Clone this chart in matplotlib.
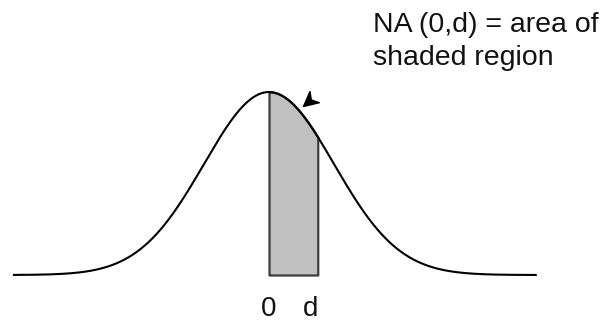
import numpy as np
import matplotlib
matplotlib.use('Agg')
import matplotlib.pyplot as plt
from matplotlib.path import Path
from matplotlib.markers import MarkerStyle
from matplotlib.transforms import Affine2D

# standard normal curve, x in units of sigma
curve_range = [-3.94, 4.12]
d_value = 0.75
tick_positions = [0, d_value]
tick_labels = ['0', 'd']
note_text = 'NA (0,d) = area of\nshaded region'
arrow_x = 0.53
arrow_gap = 0.055

plt.rcParams['font.family'] = ['Liberation Sans', 'DejaVu Sans']

def density(z):
	return np.exp(-z**2 / 2.0)

fig = plt.figure(figsize=(6.06, 3.21), dpi=100)
ax = fig.add_axes([0, 0, 1, 1])
ax.set_xlim(-269 / 65.0, (606 - 269) / 65.0)
ax.set_ylim(-46 / 183.0, (321 - 46) / 183.0)
ax.axis('off')

z = np.linspace(curve_range[0], curve_range[1], 800)
zs = np.linspace(0, d_value, 200)

ax.fill_between(zs, 0, density(zs), facecolor='#c0c0c0', edgecolor='#3c3c3c', linewidth=1.6, zorder=1)
ax.plot(z, density(z), color='black', linewidth=1.5, solid_capstyle='butt', zorder=2)

# little arrowhead pointing at the curve
head = Path([(0, 0), (1, 0.5), (0.7, 0), (1, -0.5), (0, 0)],
	[Path.MOVETO, Path.LINETO, Path.LINETO, Path.LINETO, Path.CLOSEPOLY])
marker = MarkerStyle(head, transform=Affine2D().rotate_deg(40))
ax.plot([arrow_x], [density(arrow_x) + arrow_gap], marker=marker, markersize=21,
	color='black', linestyle='none', zorder=3)

ax.text(tick_positions[0], -0.225, tick_labels[0], ha='center', va='baseline', fontsize=20, color='#111111')
ax.text(tick_positions[1] + 0.01, -0.225, tick_labels[1], ha='right', va='baseline', fontsize=20, color='#111111')

ax.text(373 / 606.0, 0.962, note_text, transform=ax.transAxes, ha='left', va='top',
	fontsize=20.5, color='#111111', linespacing=1.33)

plt.savefig('out.png', dpi=100)
